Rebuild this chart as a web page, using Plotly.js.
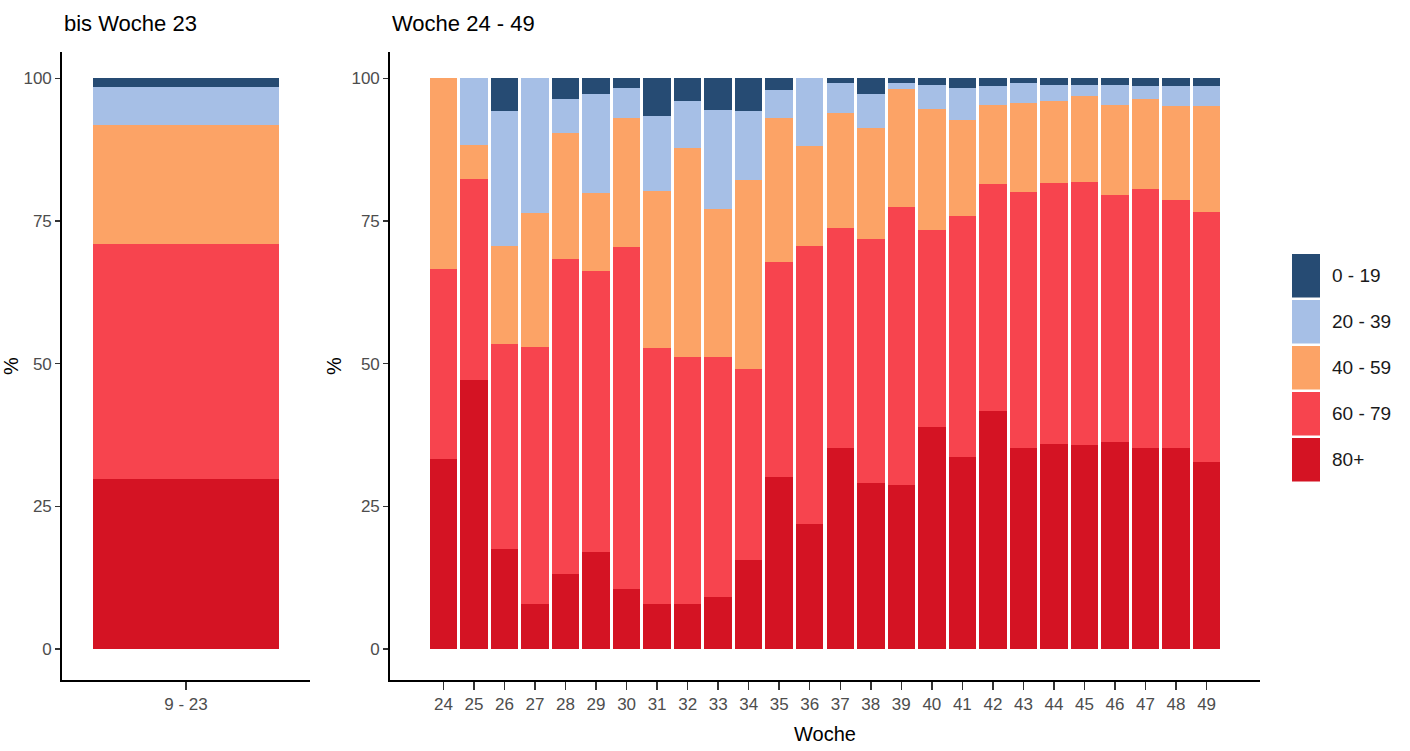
<!DOCTYPE html>
<html>
<head>
<meta charset="utf-8">
<script src="https://cdn.plot.ly/plotly-3.0.1.min.js"></script>
<style>
  html, body { margin: 0; padding: 0; background: #ffffff; }
  #chart { width: 1410px; height: 751px; }
</style>
</head>
<body>
<div id="chart"></div>
<script>
// ---------- data ----------
const ageGroups = ['80+', '60 - 79', '40 - 59', '20 - 39', '0 - 19'];   // stacking order, bottom to top
const groupColors = ['#d41323', '#f7444e', '#fca366', '#a6bfe6', '#264b73'];

const earlyCategory = ['9 - 23'];
const early80 = [29.8];
const early60 = [41.2];
const early40 = [20.8];
const early20 = [6.6];
const early0  = [1.6];

const weeks = ['24','25','26','27','28','29','30','31','32','33','34','35','36',
               '37','38','39','40','41','42','43','44','45','46','47','48','49'];
const week80 = [33.3, 47.1, 17.6,  7.9, 13.1, 17.0, 10.5,  8.0,  8.0,  9.2, 15.6, 30.2, 22.0,
                35.3, 29.1, 28.8, 39.0, 33.6, 41.7, 35.3, 36.0, 35.8, 36.3, 35.3, 35.3, 32.8];
const week60 = [33.3, 35.3, 35.8, 45.1, 55.2, 49.2, 59.9, 44.7, 43.1, 41.9, 33.4, 37.6, 48.7,
                38.4, 42.8, 48.7, 34.5, 42.2, 39.8, 44.8, 45.7, 46.1, 43.3, 45.3, 43.3, 43.7];
const week40 = [33.4,  5.9, 17.3, 23.4, 22.2, 13.7, 22.6, 27.6, 36.6, 26.0, 33.2, 25.2, 17.5,
                20.2, 19.4, 20.6, 21.1, 16.9, 13.8, 15.6, 14.3, 15.0, 15.7, 15.7, 16.6, 18.6];
const week20 = [ 0.0, 11.8, 23.5, 23.6,  5.9, 17.3,  5.3, 13.1,  8.4, 17.3, 12.0,  4.9, 11.8,
                 5.2,  5.9,  1.0,  4.3,  5.6,  3.4,  3.4,  2.9,  2.0,  3.6,  2.4,  3.5,  3.6];
const week0  = [ 0.0,  0.0,  5.8,  0.0,  3.6,  2.8,  1.7,  6.6,  3.9,  5.6,  5.8,  2.1,  0.0,
                 0.9,  2.8,  0.9,  1.1,  1.7,  1.3,  0.9,  1.1,  1.1,  1.1,  1.3,  1.3,  1.3];

const yTicks = [0, 25, 50, 75, 100];
const panelTitles = ['bis Woche 23', 'Woche 24 - 49'];
const xTitle = 'Woche';
const yTitle = '%';

// ---------- figure ----------
const W = 1410, H = 751;
const px = v => v / W;            // pixel -> paper x
const py = v => 1 - v / H;        // pixel -> paper y

const earlySeries = [early80, early60, early40, early20, early0];
const weekSeries  = [week80, week60, week40, week20, week0];

const traces = [];
ageGroups.forEach((g, i) => {
  traces.push({
    type: 'bar', name: g, x: earlyCategory, y: earlySeries[i],
    xaxis: 'x', yaxis: 'y', width: 0.9,
    marker: { color: groupColors[i], line: { width: 0 } },
    showlegend: false, hoverinfo: 'name+y'
  });
  traces.push({
    type: 'bar', name: g, x: weeks, y: weekSeries[i],
    xaxis: 'x2', yaxis: 'y2', width: 0.9,
    marker: { color: groupColors[i], line: { width: 0 } },
    showlegend: false, hoverinfo: 'name+y'
  });
});

const font = 'Liberation Sans, Arial, sans-serif';
const tickFont = { family: font, size: 17, color: '#4d4d4d' };
const yDomain = [py(680), py(52)];
const yRange = [-5.4, 104.6];

const axisCommon = {
  showline: true, linecolor: '#000000', linewidth: 1.8,
  ticks: 'outside', tickwidth: 1.5, tickcolor: '#333333',
  showgrid: false, zeroline: false, tickfont: tickFont, fixedrange: true
};
const axisTitleFont = { family: font, size: 20, color: '#000000' };

// custom legend (tall keys like ggplot)
const shapes = [];
const annotations = [];
const legendOrder = ageGroups.map((g, i) => i).reverse();
const keyTop = 254, keyH = 43.5, keyGap = 2.5;
legendOrder.forEach((gi, k) => {
  const y0 = keyTop + k * (keyH + keyGap);
  shapes.push({
    type: 'rect', xref: 'paper', yref: 'paper',
    x0: px(1292), x1: px(1320), y0: py(y0 + keyH), y1: py(y0),
    fillcolor: groupColors[gi], line: { width: 0 }
  });
  annotations.push({
    xref: 'paper', yref: 'paper', x: px(1330), y: py(y0 + keyH / 2),
    xanchor: 'left', yanchor: 'middle', showarrow: false,
    text: ageGroups[gi], font: { family: font, size: 19, color: '#1a1a1a' }
  });
});

// panel titles
[[62, panelTitles[0]], [390, panelTitles[1]]].forEach(([x, t]) => {
  annotations.push({
    xref: 'paper', yref: 'paper', x: px(x), y: py(23),
    xanchor: 'left', yanchor: 'middle', showarrow: false,
    text: t, font: { family: font, size: 22, color: '#000000' }
  });
});

const layout = {
  width: W, height: H,
  margin: { l: 0, r: 0, t: 0, b: 0 },
  paper_bgcolor: '#ffffff', plot_bgcolor: '#ffffff',
  barmode: 'stack', showlegend: false,
  font: { family: font },
  xaxis: Object.assign({}, axisCommon, {
    domain: [px(62), px(310)], anchor: 'y', type: 'category', range: [-0.6, 0.6], ticklen: 8
  }),
  yaxis: Object.assign({}, axisCommon, {
    domain: yDomain, anchor: 'x', range: yRange, tickvals: yTicks, ticklen: 5,
    title: { text: yTitle, standoff: 14, font: axisTitleFont }
  }),
  xaxis2: Object.assign({}, axisCommon, {
    domain: [px(390), px(1260)], anchor: 'y2', type: 'category', range: [-1.75, 26.75], ticklen: 8,
    title: { text: xTitle, standoff: 14, font: axisTitleFont }
  }),
  yaxis2: Object.assign({}, axisCommon, {
    domain: yDomain, anchor: 'x2', range: yRange, tickvals: yTicks, ticklen: 5,
    title: { text: yTitle, standoff: 4, font: axisTitleFont }
  }),
  shapes: shapes,
  annotations: annotations
};

Plotly.newPlot('chart', traces, layout, { displayModeBar: false, staticPlot: true });
</script>
</body>
</html>
